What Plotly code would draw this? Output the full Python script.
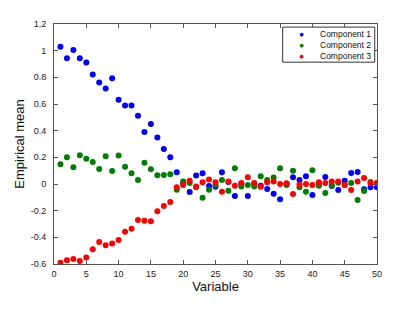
import plotly.graph_objects as go

variables = list(range(1, 51))

component1 = [1.03, 0.944, 1.005, 0.944, 0.911, 0.821, 0.761, 0.716, 0.793, 0.631,
              0.588, 0.588, 0.511, 0.39, 0.45, 0.348, 0.263, 0.2, 0.088, 0.01,
              -0.06, 0.063, 0.08, -0.015, -0.02, 0.088, 0.015, -0.09, 0.0, -0.09,
              0.0, -0.013, -0.038, -0.073, -0.115, 0.0, 0.05, 0.03, 0.058, -0.083,
              0.0, 0.053, -0.015, -0.045, 0.025, 0.083, 0.09, -0.04, -0.025, -0.025]

component2 = [0.148, 0.2, 0.125, 0.215, 0.19, 0.165, 0.113, 0.208, 0.098, 0.213,
              0.13, 0.08, 0.03, 0.16, 0.11, 0.065, 0.068, 0.073, -0.043, 0.018,
              0.008, -0.025, -0.103, -0.043, -0.008, 0.03, -0.05, 0.118, -0.018, -0.008,
              -0.018, 0.058, 0.03, 0.048, 0.118, -0.008, 0.1, -0.025, -0.058, 0.103,
              -0.013, -0.068, -0.013, 0.01, -0.008, 0.008, -0.12, -0.053, 0.015, 0.01]

component3 = [-0.59, -0.571, -0.563, -0.578, -0.551, -0.49, -0.435, -0.46, -0.446, -0.42,
              -0.358, -0.335, -0.27, -0.275, -0.28, -0.205, -0.165, -0.135, -0.025, -0.008,
              0.025, -0.018, 0.013, 0.033, 0.013, -0.058, 0.018, -0.013, 0.008, 0.05,
              0.008, -0.02, 0.013, 0.018, 0.0, 0.005, -0.075, -0.003, 0.0, -0.008,
              0.013, 0.008, 0.018, 0.018, -0.008, -0.045, 0.018, 0.045, 0.008, 0.008]

series_names = ["Component 1", "Component 2", "Component 3"]
series_values = [component1, component2, component3]
series_colors = ["#0000ff", "#008000", "#ff0000"]

x_ticks = [0, 5, 10, 15, 20, 25, 30, 35, 40, 45, 50]
y_ticks = [-0.6, -0.4, -0.2, 0, 0.2, 0.4, 0.6, 0.8, 1.0, 1.2]
y_tick_labels = ["-0.6", "-0.4", "-0.2", "0", "0.2", "0.4", "0.6", "0.8", "1", "1.2"]

FONT = "Liberation Sans, Arial, Helvetica"

fig = go.Figure()
for name, vals, color in zip(series_names, series_values, series_colors):
    fig.add_trace(go.Scatter(x=variables, y=vals, mode="markers", name=name,
                             marker=dict(color=color, size=6, line=dict(width=0))))

axis_common = dict(showline=True, linecolor="#555555", linewidth=1, mirror="ticks",
                   ticks="inside", ticklen=4, tickcolor="#555555", showgrid=False,
                   zeroline=False, automargin=False,
                   tickfont=dict(family=FONT, size=9, color="#222"))

fig.update_xaxes(range=[0, 50], tickvals=x_ticks, ticklabelstandoff=1,
                 title=dict(text="Variable", font=dict(family=FONT, size=13, color="#111"), standoff=0),
                 **axis_common)
fig.update_yaxes(range=[-0.6, 1.2], tickvals=y_ticks, ticktext=y_tick_labels, ticklabelstandoff=5,
                 title=dict(text="Empirical mean", font=dict(family=FONT, size=13, color="#111"), standoff=3),
                 **axis_common)

# Compact MATLAB-style legend box
fig.add_shape(type="rect", xref="paper", yref="paper", x0=0.708, x1=0.993, y0=0.841, y1=0.987,
              line=dict(color="#333333", width=1), fillcolor="white", layer="above")
dots_text = "<br>".join(f"<span style='color:{c}'>●</span>" for c in series_colors)
names_text = "<br>".join(series_names)
fig.add_annotation(xref="paper", yref="paper", x=0.7666, y=0.9144, text=dots_text, showarrow=False,
                   font=dict(family=FONT, size=8.5), xanchor="center", yanchor="middle", borderpad=0)
fig.add_annotation(xref="paper", yref="paper", x=0.8204, y=0.9144, text=names_text, showarrow=False,
                   font=dict(family=FONT, size=8.5, color="#111"), xanchor="left", yanchor="middle",
                   align="left", borderpad=0)

# page body has an 8px default margin; offset the plot area to compensate
fig.update_layout(
    width=415, height=313,
    margin=dict(l=46, r=46, t=16, b=57),
    paper_bgcolor="white", plot_bgcolor="white",
    showlegend=False,
)

fig.write_html("out.html")
